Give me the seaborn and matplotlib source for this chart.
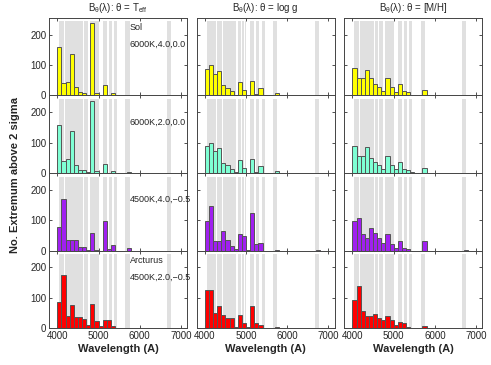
import numpy as np
import pandas as pd
import matplotlib
matplotlib.use('Agg')
import matplotlib.pyplot as plt
import seaborn as sns

# bin centres (A) of the 100 A histogram bins
wave = [4050, 4150, 4250, 4350, 4450, 4550, 4650, 4750, 4850, 4950,
        5050, 5150, 5250, 5350, 5450, 5750, 6750]
bin_edges = [float(b) for b in np.arange(4000, 6900, 100)]

# counts per panel: rows = models, cols = theta
teff_rows = [
    [160, 42, 45, 137, 28, 11, 9, 1, 237, 8, 2, 33, 2, 8, 0, 3, 0],
    [157, 41, 45, 137, 25, 9, 9, 2, 236, 5, 1, 31, 1, 5, 0, 3, 0],
    [77, 170, 36, 36, 36, 13, 13, 2, 57, 3, 0, 97, 4, 18, 0, 7, 0],
    [87, 174, 40, 76, 35, 35, 30, 10, 79, 25, 6, 27, 27, 6, 2, 2, 2],
]
logg_rows = [
    [88, 99, 72, 82, 33, 26, 13, 2, 43, 17, 0, 48, 4, 23, 0, 9, 0],
    [88, 99, 73, 83, 33, 25, 14, 2, 43, 17, 0, 47, 4, 23, 0, 8, 0],
    [96, 147, 32, 32, 63, 35, 15, 5, 56, 49, 2, 124, 23, 26, 0, 1, 2],
    [126, 126, 49, 74, 42, 33, 33, 5, 42, 18, 3, 74, 18, 9, 2, 4, 0],
]
mh_rows = [
    [90, 59, 57, 84, 57, 37, 27, 15, 57, 27, 12, 37, 15, 12, 2, 18, 0],
    [88, 57, 57, 84, 49, 35, 25, 14, 55, 25, 12, 35, 14, 10, 2, 15, 1],
    [98, 107, 55, 42, 75, 58, 42, 26, 53, 21, 7, 30, 9, 5, 0, 30, 3],
    [93, 140, 56, 41, 41, 47, 33, 27, 40, 27, 11, 20, 18, 3, 2, 8, 0],
]

col_titles = [r'B$_\theta$($\lambda$): $\theta$ = T$_{eff}$',
              r'B$_\theta$($\lambda$): $\theta$ = log g',
              r'B$_\theta$($\lambda$): $\theta$ = [M/H]']
row_colors = ['#ffff00', '#7fffd4', '#a020f0', '#ff0000']
row_labels = [['Sol', '6000K,4.0,0.0'], ['', '6000K,2.0,0.0'],
              ['', '4500K,4.0,\u22120.5'], ['Arcturus', '4500K,2.0,\u22120.5']]

# grey wavelength windows
windows = [(4040, 4165), (4175, 4280), (4290, 4425), (4435, 4525), (4535, 4630),
           (4640, 4745), (4795, 4880), (4890, 4960), (4970, 5010), (5105, 5200),
           (5250, 5320), (5385, 5450), (5655, 5755), (6665, 6765)]

sns.set_style('ticks')
plt.rcParams['font.family'] = ['Liberation Sans', 'DejaVu Sans']
plt.rcParams['mathtext.fontset'] = 'custom'
plt.rcParams['mathtext.rm'] = 'Liberation Sans'
plt.rcParams['mathtext.it'] = 'Liberation Sans'
plt.rcParams['xtick.direction'] = 'in'
plt.rcParams['ytick.direction'] = 'in'

fig, axes = plt.subplots(4, 3, figsize=(4.91, 3.65), dpi=100, sharex=True, sharey=True)
fig.subplots_adjust(left=0.1, right=0.982, top=0.951, bottom=0.101, wspace=0.07, hspace=0)

all_data = [teff_rows, logg_rows, mh_rows]
for c in range(3):
    for r in range(4):
        ax = axes[r, c]
        for w0, w1 in windows:
            ax.axvspan(w0, w1, ymin=0, ymax=0.955, color='#e0e0e0', lw=0, zorder=0)
        df = pd.DataFrame({'wave': wave, 'count': all_data[c][r]})
        sns.histplot(data=df, x='wave', weights='count', bins=bin_edges, ax=ax,
                     color=row_colors[r], alpha=1, edgecolor='#555555', linewidth=0.7,
                     zorder=2)
        ax.set_xlim(3800, 7150)
        ax.set_ylim(0, 255)
        ax.set_xticks([4000, 5000, 6000, 7000])
        ax.set_yticks([0, 100, 200])
        ax.tick_params(axis='both', which='both', top=True, right=True, length=2.5,
                       width=0.6, labelsize=7, pad=2, color='#333333')
        ax.set_ylabel('')
        ax.set_xlabel('')
        for s in ax.spines.values():
            s.set_linewidth(0.7)
            s.set_color('#444444')
        if c == 0:
            lab_top, lab_bot = row_labels[r]
            if lab_top:
                ax.text(5760, 222, lab_top, fontsize=6.5, va='center', ha='left')
            ax.text(5760, 168, lab_bot, fontsize=6.5, va='center', ha='left')
        if r == 0:
            ax.set_title(col_titles[c], fontsize=7, pad=5)
        if r == 3:
            ax.set_xlabel('Wavelength (A)', fontsize=8, fontweight='bold', labelpad=2)

fig.text(0.03, 0.52, 'No. Extremum above 2 sigma', rotation=90, fontsize=8,
         fontweight='bold', ha='center', va='center')

fig.savefig('out.png', dpi=100)
